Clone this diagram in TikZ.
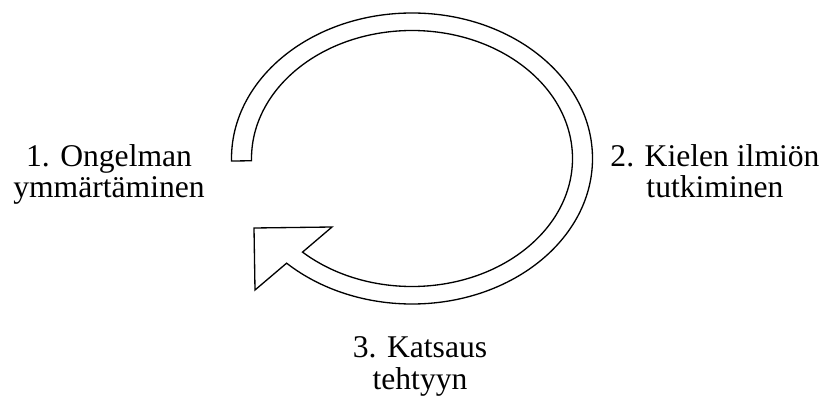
\documentclass[tikz,border=0pt]{standalone}
\usepackage{fontspec}
\setmainfont{Liberation Serif}
\usepackage{tikz}
\usetikzlibrary{calc}

\begin{document}
\begin{tikzpicture}[x=0.02cm, y=0.02cm,
    vaihe/.style={align=center, inner sep=0pt, anchor=base,
        font=\fontsize{18}{17.9}\selectfont},
    nuoli/.style={draw=black, line width=0.75pt, line join=miter, fill=white}]
    \useasboundingbox (0,0) rectangle (824,396);
    % Center of the cycle
    \coordinate (keskus) at (412,237.5);
    % Hollow circular arrow
    \draw[nuoli] ($(keskus)+(181:180.5 and 145.5)$)
        arc[start angle=181, end angle=-134, x radius=180.5, y radius=145.5]
        -- (255,106) -- (254,168) -- (332,169)
        -- ($(keskus)+(-133:160.5 and 128)$)
        arc[start angle=-133, end angle=181, x radius=160.5, y radius=128]
        -- cycle;
    % Phase labels
    \node[vaihe] (ongelma) at (109,198) {1. Ongelman\\ymmärtäminen};
    \node[vaihe] (ilmio) at (715,198) {2. Kielen ilmiön\\tutkiminen};
    \node[vaihe] (katsaus) at (420,7) {3. Katsaus\\tehtyyn};
\end{tikzpicture}
\end{document}
